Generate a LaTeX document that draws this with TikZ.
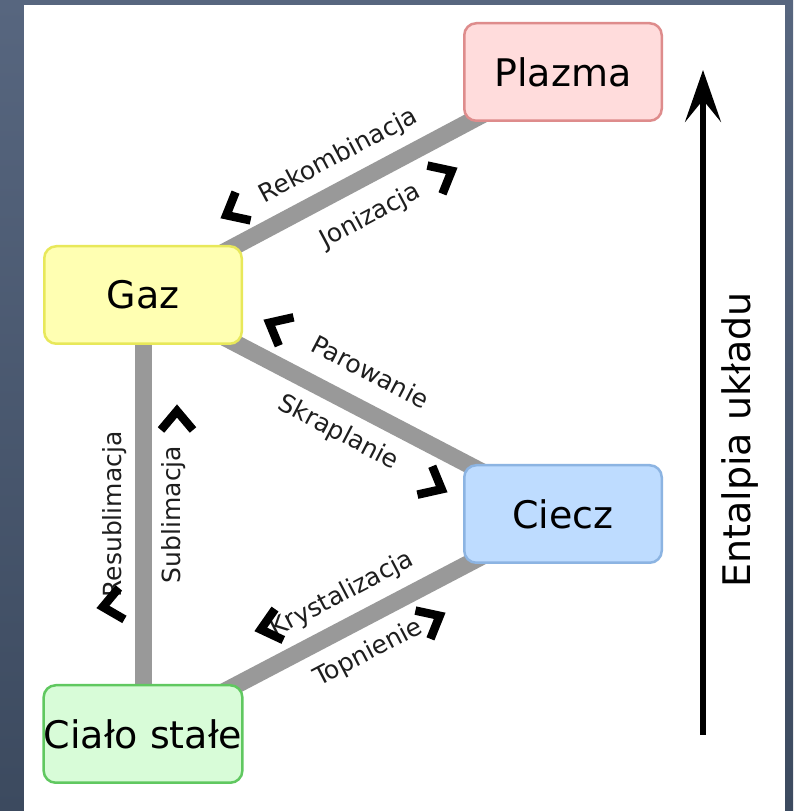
\documentclass[tikz,border=0pt]{standalone}
\usepackage{fontspec}
\setmainfont{DejaVu Sans}
\usetikzlibrary{arrows.meta}

\definecolor{bgtop}{RGB}{87,102,127}
\definecolor{bgbot}{RGB}{60,74,95}
\definecolor{plazmafill}{RGB}{255,220,220}
\definecolor{plazmaline}{RGB}{222,140,140}
\definecolor{gazfill}{RGB}{255,255,178}
\definecolor{gazline}{RGB}{232,232,90}
\definecolor{cieczfill}{RGB}{190,220,255}
\definecolor{cieczline}{RGB}{140,180,226}
\definecolor{cialofill}{RGB}{216,252,216}
\definecolor{cialoline}{RGB}{96,200,96}
\definecolor{conngray}{RGB}{153,153,153}
\definecolor{labtext}{RGB}{30,30,30}

\pgfdeclarelayer{back}
\pgfdeclarelayer{mid}
\pgfsetlayers{back,mid,main}

\tikzset{
    state/.style={draw, line width=2.5pt, rounded corners=12pt, minimum width=197.5pt, minimum height=97.5pt, inner sep=0pt, font=\fontsize{38}{46}\selectfont},
    trans/.style={line width=17pt, draw=conngray},
    lab/.style={sloped, inner sep=0pt, text height=19pt, text depth=5pt, text=labtext, font=\fontsize{25}{30}\selectfont},
    chev/.style={line width=8.5pt, line join=miter, miter limit=10}
}

\begin{document}
\begin{tikzpicture}[x=1pt,y=1pt]
    \begin{pgfonlayer}{back}
        \shade[top color=bgtop, bottom color=bgbot] (0,0) rectangle (793,811);
        \fill[white] (24,0) rectangle (785,806);
    \end{pgfonlayer}

    \node[state, fill=plazmafill, draw=plazmaline] (plazma) at (563,739) {Plazma};
    \node[state, fill=gazfill, draw=gazline] (gaz) at (143,516) {Gaz};
    \node[state, fill=cieczfill, draw=cieczline] (ciecz) at (563,297) {Ciecz};
    \node[state, fill=cialofill, draw=cialoline] (cialo) at (143,77) {Ciało stałe};

    \begin{pgfonlayer}{mid}
        \draw[trans] (gaz.center) -- node[lab, anchor=south, outer sep=19pt] (rek) {Rekombinacja} node[lab, anchor=north, outer sep=25pt] (jon) {Jonizacja} (plazma.center);
        \draw[trans] (gaz.center) -- node[lab, anchor=south, outer sep=23pt] (par) {Parowanie} node[lab, anchor=north, outer sep=20pt] (skr) {Skraplanie} (ciecz.center);
        \draw[trans] (cialo.center) -- node[lab, anchor=south, outer sep=17pt] (resub) {Resublimacja} node[lab, anchor=north, outer sep=18pt] (sub) {Sublimacja} (gaz.center);
        \draw[trans] (cialo.center) -- node[lab, anchor=south, outer sep=19pt, xshift=4pt] (kry) {Krystalizacja} node[lab, anchor=north, outer sep=21pt] (top) {Topnienie} (ciecz.center);
    \end{pgfonlayer}

    % kierunki przemian
    \foreach \x/\y/\a in {221/593/208, 457/643/28, 264/491/152.5, 447/319/-27.5, 97/203/190, 177/406/90, 255/180/195, 445/198/28}
        \draw[chev, shift={(\x,\y)}, rotate=\a] (-25,16) -- (-6,0) -- (-25,-16);

    \coordinate (low) at (703,76);
    \coordinate (high) at (703,741);
    \draw[line width=6pt, -{Stealth[length=52pt, width=36pt, inset=22pt]}] (low) -- (high);
    \node[rotate=90, font=\fontsize{38}{46}\selectfont] (ental) at (740,371) {Entalpia układu};
\end{tikzpicture}
\end{document}
